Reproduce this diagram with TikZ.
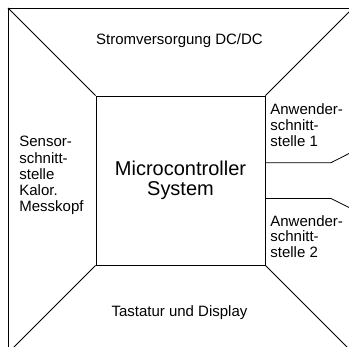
\documentclass[tikz,border=0pt]{standalone}
\usepackage{fontspec}
\setmainfont{Liberation Sans}
\begin{document}
\begin{tikzpicture}[x=1pt,y=-1pt,line width=0.8pt,
  lbl/.style={font=\fontsize{15}{16.3}\selectfont,inner sep=0pt,align=left,anchor=base west},
  ctr/.style={font=\fontsize{15}{16}\selectfont,inner sep=0pt,anchor=base},
  corebox/.style={draw,minimum width=169pt,minimum height=169pt,inner sep=0pt,align=center,
    font=\fontsize{20}{19.5}\selectfont}]
\useasboundingbox (0,0) rectangle (349,347);
\clip (0,0) rectangle (349,347);
% outer frame (partly outside the visible area)
\coordinate (otl) at (8,8);
\coordinate (otr) at (353,8);
\coordinate (obr) at (353,353);
\coordinate (obl) at (8,353);
\draw (obl) -- (otl) -- (otr) -- (obr) -- cycle;
% central box
\node[corebox] (mcs) at (180.5,180.5) {Microcontroller\\System};
% diagonals
\draw (otl) -- (mcs.north west);
\draw (otr) -- (mcs.north east);
\draw (obr) -- (mcs.south east);
\draw (obl) -- (mcs.south west);
% user interface separators
\coordinate (a1) at (265,162.7);
\coordinate (b1) at (331,162.7);
\coordinate (c1) at (353,151.5);
\coordinate (a2) at (265,198.5);
\coordinate (b2) at (331,198.5);
\coordinate (c2) at (353,209.5);
\draw (a1) -- (b1) -- (c1);
\draw (a2) -- (b2) -- (c2);
% labels (base anchor = baseline of last line)
\node[ctr] (pwr) at (179.5,45) {Stromversorgung DC/DC};
\node[ctr] (kbd) at (179.5,316.5) {Tastatur und Display};
\node[lbl] (sens) at (19,212) {Sensor-\\schnitt-\\stelle\\Kalor.\\Messkopf};
\node[lbl,font=\fontsize{15}{16}\selectfont] (ui1) at (270,147) {Anwender-\\schnitt-\\stelle 1};
\node[lbl,font=\fontsize{15}{15.5}\selectfont] (ui2) at (270,257.5) {Anwender-\\schnitt-\\stelle 2};
\end{tikzpicture}
\end{document}
